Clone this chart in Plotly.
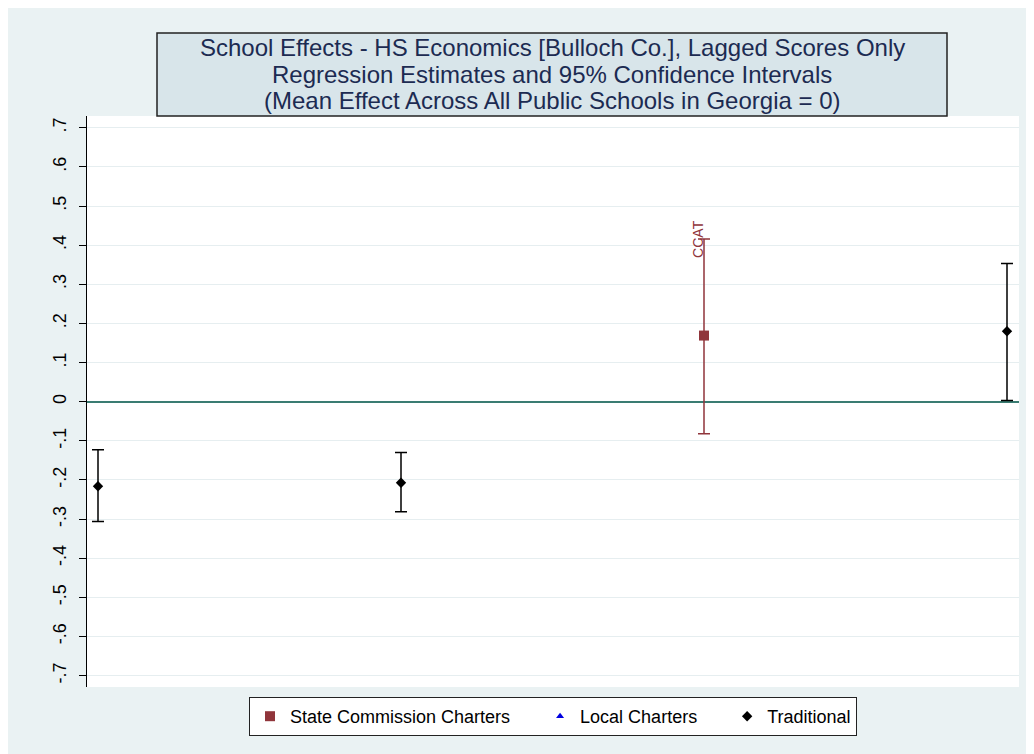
import plotly.graph_objects as go

# ---- data ----
school_pos = [1, 2, 3, 4]
estimates = [-0.216, -0.207, 0.169, 0.180]
ci_lower = [-0.306, -0.281, -0.082, 0.003]
ci_upper = [-0.123, -0.130, 0.416, 0.353]
groups = ["Traditional", "Traditional", "State Commission Charters", "Traditional"]
school_labels = ["", "", "CCAT", ""]

tick_vals = [-0.7, -0.6, -0.5, -0.4, -0.3, -0.2, -0.1, 0, 0.1, 0.2, 0.3, 0.4, 0.5, 0.6, 0.7]
tick_text = ["-.7", "-.6", "-.5", "-.4", "-.3", "-.2", "-.1", "0", ".1", ".2", ".3", ".4", ".5", ".6", ".7"]

title_lines = [
    "School Effects - HS Economics [Bulloch Co.], Lagged Scores Only",
    "Regression Estimates and 95% Confidence Intervals",
    "(Mean Effect Across All Public Schools in Georgia = 0)",
]

group_order = ["State Commission Charters", "Local Charters", "Traditional"]
group_style = {
    "State Commission Charters": dict(color="#90353B", symbol="square", size=10),
    "Local Charters": dict(color="#0000E0", symbol="triangle-up", size=7),
    "Traditional": dict(color="#000000", symbol="diamond", size=8),
}
legend_pad = {"State Commission Charters": "\u00a0" * 5, "Local Charters": "\u00a0" * 5, "Traditional": ""}

FONT = "Liberation Sans, Arial, sans-serif"

fig = go.Figure()
for g in group_order:
    idx = [i for i, gg in enumerate(groups) if gg == g]
    xs = [school_pos[i] for i in idx]
    ys = [estimates[i] for i in idx]
    up = [ci_upper[i] - estimates[i] for i in idx]
    dn = [estimates[i] - ci_lower[i] for i in idx]
    st = group_style[g]
    if not xs:
        xs, ys, up, dn = [None], [None], [None], [None]
    fig.add_trace(go.Scatter(
        x=xs, y=ys, mode="markers", name=g + legend_pad[g],
        marker=dict(color=st["color"], symbol=st["symbol"], size=st["size"], line=dict(width=0)),
        error_y=dict(type="data", symmetric=False, array=up, arrayminus=dn,
                     color=st["color"], thickness=1.5, width=6),
        showlegend=True,
    ))

# point labels
for i, lab in enumerate(school_labels):
    if lab:
        st = group_style[groups[i]]
        fig.add_annotation(x=school_pos[i], y=ci_upper[i], text=lab, textangle=-90,
                           showarrow=False, xanchor="center", yanchor="middle", xshift=-6,
                           font=dict(family=FONT, size=14, color=st["color"]))

# geometry (screen pixels; page adds an 8px body offset)
OFF = 8
L, R, T, B = 87 - OFF, 1019 - OFF, 116 - OFF, 687 - OFF
W, H = R - L, B - T
def px(xs_): return (xs_ - OFF - L) / W
def py(ys_): return (B - (ys_ - OFF)) / H

fig.add_shape(type="rect", xref="paper", yref="paper",
              x0=px(157), x1=px(947), y0=py(116), y1=py(33),
              fillcolor="#D8E5EA", line=dict(color="#222222", width=1.5))
for line, yc in zip(title_lines, [47, 74, 101]):
    fig.add_annotation(x=px(552), y=py(yc), xref="paper", yref="paper", text=line,
                       showarrow=False, xanchor="center", yanchor="middle",
                       font=dict(family=FONT, size=24, color="#1C2B52"))

fig.update_layout(
    width=1034, height=754,
    margin=dict(l=L, r=1034 - R, t=T, b=754 - B),
    paper_bgcolor="#EAF2F3", plot_bgcolor="white",
    font=dict(family=FONT, color="black"),
    showlegend=True,
    legend=dict(orientation="h", x=0.5, xanchor="center", y=py(697), yanchor="top",
                bgcolor="white", bordercolor="#222222", borderwidth=1,
                font=dict(family=FONT, size=18, color="black"), itemclick=False),
    xaxis=dict(range=[0.9637, 4.0396], showgrid=False, zeroline=False, showline=False,
               showticklabels=False, ticks=""),
    yaxis=dict(range=[-0.729, 0.73], tickvals=tick_vals, ticktext=tick_text,
               tickangle=-90, ticks="outside", ticklen=7, tickcolor="black", tickwidth=1,
               ticklabelstandoff=6,
               showline=True, linecolor="black", linewidth=1,
               showgrid=True, gridcolor="#E6EEF0", gridwidth=1,
               zeroline=True, zerolinecolor="#3A7C72", zerolinewidth=1.5,
               tickfont=dict(family=FONT, size=18, color="black")),
)

fig.write_html("out.html")
